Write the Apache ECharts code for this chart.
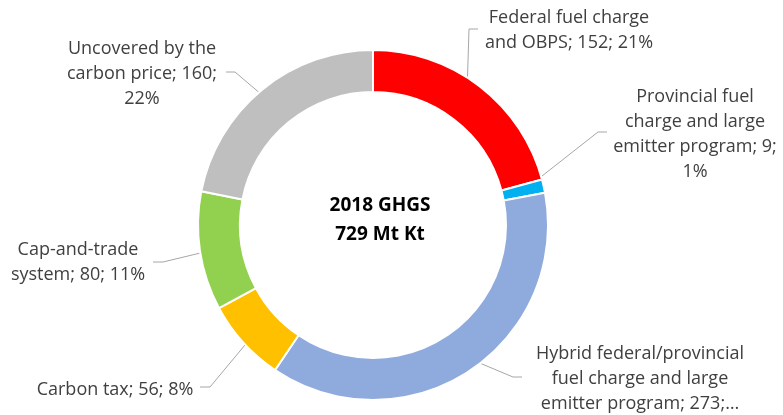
<!DOCTYPE html>
<html>
<head>
<meta charset="utf-8">
<script src="https://cdn.jsdelivr.net/npm/echarts@6/dist/echarts.min.js"></script>
<style>
  html, body { margin: 0; background: #fff; }
  #chart { width: 783px; height: 415px; }
</style>
</head>
<body>
<div id="chart"></div>
<script>
const categories = [
  'Federal fuel charge and OBPS',
  'Provincial fuel charge and large emitter program',
  'Hybrid federal/provincial fuel charge and large emitter program',
  'Carbon tax',
  'Cap-and-trade system',
  'Uncovered by the carbon price'
];
const values = [152, 9, 273, 56, 80, 160];
const colors = ['#FF0000', '#00B0F0', '#8FAADC', '#FFC000', '#92D050', '#BFBFBF'];
const centerTitle = ['2018 GHGS', '729 Mt Kt'];

// ring geometry in px
const CX = 373, CY = 225, R_IN = 133, R_OUT = 175;
const FONT_FAMILY = '"Open Sans", sans-serif';
const FONT_SIZE = 18;

// where Excel put each label box, words per wrapped line, leader line elbow
const spots = [
  {x: 569, y: 30,  words: [3, 4],       elbow: [469, 29],  end: [478, 29]},
  {x: 695, y: 134, words: [2, 3, 3, 1], elbow: [598, 132], end: [607, 132]},
  {x: 640, y: 379, words: [2, 4, 3],    elbow: [513, 377], end: [522, 377]},
  {x: 115, y: 390, words: [4],          elbow: [210, 387], end: [200, 387]},
  {x: 78,  y: 262, words: [1, 3],       elbow: [163, 262], end: [153, 262]},
  {x: 142, y: 74,  words: [3, 3, 1],    elbow: [235, 72],  end: [226, 72]}
];

const total = values.reduce((a, b) => a + b, 0);

// split the label into lines like Excel did; cut with an ellipsis if it runs over
function wrap(text, counts) {
  const words = text.split(' ');
  const lines = [];
  let k = 0;
  counts.forEach(n => {
    lines.push(words.slice(k, k + n).join(' '));
    k += n;
  });
  if (k < words.length) lines[lines.length - 1] += '…';
  return lines.join('\n');
}

// mid angle of each slice, clockwise from 12 o'clock
const midAngles = [];
let acc = 0;
values.forEach(v => {
  midAngles.push(-Math.PI / 2 + (acc + v / 2) / total * Math.PI * 2);
  acc += v;
});

const chart = echarts.init(document.getElementById('chart'));

chart.setOption({
  animation: false,
  color: colors,
  graphic: [{
    type: 'text',
    x: 380,
    y: 220,
    style: {
      text: centerTitle.join('\n'),
      fontFamily: FONT_FAMILY,
      fontSize: 19,
      fontWeight: 'bold',
      lineHeight: 29,
      fill: '#000',
      align: 'center',
      verticalAlign: 'middle'
    }
  }],
  series: [{
    type: 'pie',
    center: [CX, CY],
    radius: [R_IN, R_OUT],
    startAngle: 90,
    clockwise: true,
    avoidLabelOverlap: false,
    itemStyle: {
      borderColor: '#fff',
      borderWidth: 2
    },
    label: {
      show: true,
      position: 'outside',
      color: '#404040',
      fontFamily: FONT_FAMILY,
      fontSize: FONT_SIZE,
      lineHeight: 25,
      align: 'center',
      formatter: p => {
        const pct = Math.round(p.value / total * 100);
        return wrap(p.name + '; ' + p.value + '; ' + pct + '%', spots[p.dataIndex].words);
      }
    },
    labelLine: {
      show: true,
      smooth: false,
      lineStyle: { color: '#A6A6A6', width: 1 }
    },
    labelLayout: params => {
      const i = params.dataIndex;
      const s = spots[i];
      const a = midAngles[i];
      const rMid = (R_IN + R_OUT) / 2;
      const start = [CX + rMid * Math.cos(a), CY + rMid * Math.sin(a)];
      return {
        x: s.x,
        y: s.y,
        align: 'center',
        verticalAlign: 'middle',
        labelLinePoints: [start, s.elbow, s.end]
      };
    },
    data: categories.map((name, i) => ({ name: name, value: values[i] }))
  }]
});
</script>
</body>
</html>
